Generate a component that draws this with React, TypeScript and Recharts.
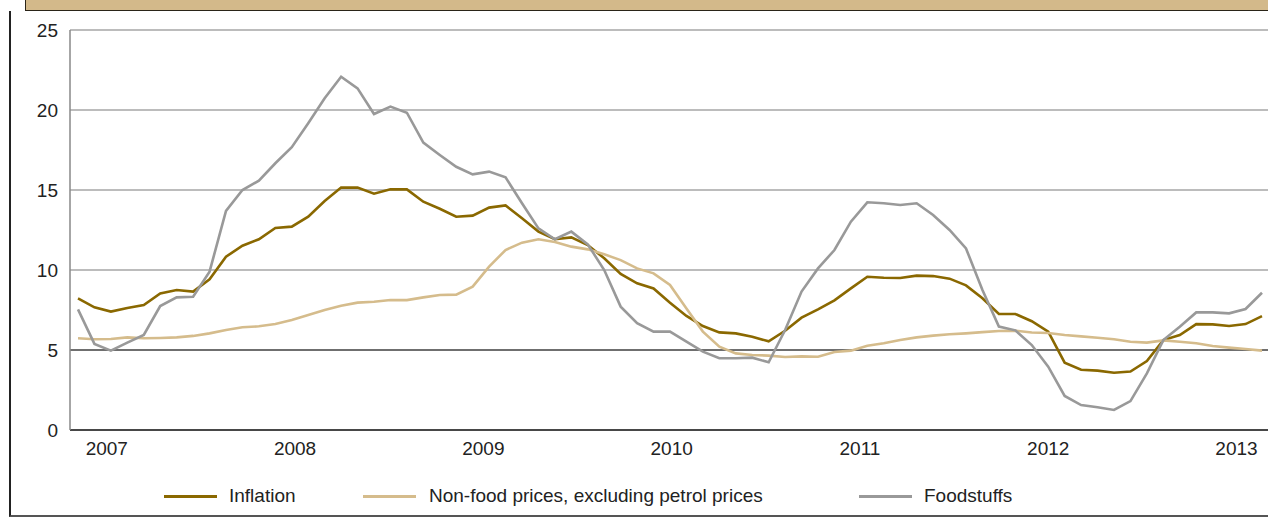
import { LineChart, Line, XAxis, YAxis, CartesianGrid, ReferenceLine } from "recharts";

const inflation = [
  8.23, 7.67, 7.4, 7.62, 7.81, 8.54, 8.75, 8.65, 9.42, 10.83, 11.52, 11.92,
  12.63, 12.71, 13.33, 14.31, 15.15, 15.15, 14.77, 15.04, 15.04, 14.27, 13.83, 13.33,
  13.4, 13.9, 14.04, 13.23, 12.4, 11.92, 12.04, 11.56, 10.73, 9.75, 9.17, 8.85,
  7.96, 7.13, 6.5, 6.1, 6.04, 5.83, 5.54, 6.2, 7.02, 7.54, 8.1, 8.85,
  9.58, 9.52, 9.5, 9.65, 9.62, 9.46, 9.04, 8.23, 7.25, 7.25, 6.8, 6.15,
  4.21, 3.77, 3.71, 3.58, 3.65, 4.31, 5.62, 5.94, 6.62, 6.6, 6.5, 6.62, 7.12,
];

const nonFood = [
  5.73, 5.67, 5.69, 5.79, 5.73, 5.75, 5.79, 5.88, 6.04, 6.25, 6.42, 6.48,
  6.62, 6.88, 7.19, 7.5, 7.77, 7.96, 8.02, 8.12, 8.12, 8.29, 8.44, 8.46,
  8.96, 10.21, 11.25, 11.71, 11.92, 11.75, 11.46, 11.29, 10.98, 10.62, 10.1, 9.79,
  9.06, 7.6, 6.15, 5.21, 4.79, 4.69, 4.65, 4.56, 4.6, 4.58, 4.88, 4.96,
  5.27, 5.42, 5.62, 5.79, 5.9, 5.98, 6.04, 6.12, 6.19, 6.21, 6.09, 6.06,
  5.94, 5.85, 5.77, 5.67, 5.52, 5.46, 5.6, 5.52, 5.42, 5.25, 5.15, 5.06, 4.96,
];

const foodstuffs = [
  7.54, 5.38, 4.96, 5.46, 5.94, 7.75, 8.29, 8.33, 9.9, 13.69, 15.0, 15.58,
  16.67, 17.67, 19.17, 20.73, 22.08, 21.35, 19.75, 20.21, 19.83, 17.96, 17.19, 16.45,
  15.98, 16.15, 15.79, 14.17, 12.6, 11.92, 12.4, 11.6, 10.0, 7.71, 6.67, 6.15,
  6.15, 5.52, 4.9, 4.48, 4.48, 4.52, 4.23, 6.25, 8.65, 10.1, 11.25, 13.02,
  14.23, 14.17, 14.06, 14.17, 13.44, 12.5, 11.35, 8.75, 6.46, 6.23, 5.31, 3.96,
  2.13, 1.56, 1.42, 1.25, 1.81, 3.54, 5.62, 6.46, 7.35, 7.35, 7.29, 7.56, 8.58,
];

const yearLabels = ["2007", "2008", "2009", "2010", "2011", "2012", "2013"];
const yearTicks = [1.75, 13.2, 24.65, 36.1, 47.55, 59.0, 70.45];
const yTicks = [0, 5, 10, 15, 20, 25];

const series = [
  { key: "inflation", name: "Inflation", color: "#8a6800" },
  { key: "nonFood", name: "Non-food prices, excluding petrol prices", color: "#d5bc8c" },
  { key: "foodstuffs", name: "Foodstuffs", color: "#999999" },
];

const data = inflation.map((v, i) => ({
  idx: i,
  inflation: v,
  nonFood: nonFood[i],
  foodstuffs: foodstuffs[i],
}));

const font = "'Liberation Sans', Arial, Helvetica, sans-serif";

const legendPos = [
  { line: 164, text: 229 },
  { line: 363, text: 429 },
  { line: 859, text: 924 },
];

export default function App() {
  return (
    <div style={{ position: "absolute", left: 0, top: 0, width: 1268, height: 517, background: "#fff", overflow: "hidden", fontFamily: font }}>
      <div style={{ position: "absolute", left: 25, top: 0, width: 1243, height: 10, background: "#d3b98a", borderBottom: "1.5px solid #2a2418", borderLeft: "1.5px solid #2a2418" }} />
      <div style={{ position: "absolute", left: 9, top: 11, width: 1259, height: 504, borderLeft: "2px solid #222", borderBottom: "2px solid #555" }} />
      <div style={{ position: "absolute", left: 0, top: 0 }}>
        <LineChart width={1268} height={470} data={data} margin={{ top: 30, right: 0, bottom: 0, left: 0 }}>
          <CartesianGrid vertical={false} stroke="#7a7a7a" strokeWidth={1.2} />
          <XAxis
            dataKey="idx"
            type="number"
            domain={[0, 72]}
            ticks={yearTicks}
            tickFormatter={(v: number) => yearLabels[yearTicks.indexOf(v)] ?? ""}
            padding={{ left: 8, right: 6 }}
            height={40}
            tickLine={false}
            tickSize={0}
            tickMargin={12}
            axisLine={{ stroke: "#222", strokeWidth: 1.5 }}
            tick={{ fill: "#222", fontSize: 19, fontFamily: font }}
            interval={0}
          />
          <YAxis
            domain={[0, 25]}
            ticks={yTicks}
            width={70}
            tickLine={false}
            tickSize={0}
            tickMargin={12}
            axisLine={{ stroke: "#888", strokeWidth: 1.5 }}
            tick={{ fill: "#222", fontSize: 19, fontFamily: font }}
            interval={0}
          />
          <ReferenceLine y={5} stroke="#222" strokeWidth={1.2} />
          {series.map((s) => (
            <Line
              key={s.key}
              type="linear"
              dataKey={s.key}
              name={s.name}
              stroke={s.color}
              strokeWidth={2.6}
              dot={false}
              isAnimationActive={false}
            />
          ))}
        </LineChart>
      </div>
      {series.map((s, i) => (
        <div key={s.key}>
          <div style={{ position: "absolute", left: legendPos[i].line, top: 495, width: 53, height: 3, background: s.color }} />
          <div style={{ position: "absolute", left: legendPos[i].text, top: 484, fontSize: 19, lineHeight: "24px", color: "#222", whiteSpace: "nowrap" }}>
            {s.name}
          </div>
        </div>
      ))}
    </div>
  );
}
